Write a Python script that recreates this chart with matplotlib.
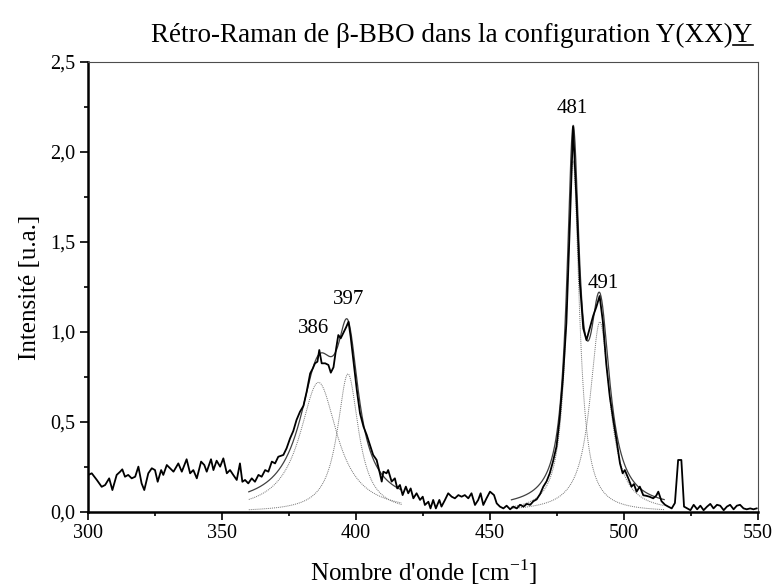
import numpy as np
import matplotlib
matplotlib.use('Agg')
import matplotlib.pyplot as plt
from matplotlib.ticker import MultipleLocator, FuncFormatter
from matplotlib.lines import Line2D

plt.rcParams['font.family'] = ['Liberation Serif', 'DejaVu Serif']
plt.rcParams['mathtext.fontset'] = 'custom'
plt.rcParams['mathtext.rm'] = 'Liberation Serif'

# measured spectrum (cm-1, intensity)
wavenumber = [
    300.1, 301.4, 303.3, 305.1, 306.4, 307.9, 309.1, 310.7, 312.0, 312.8,
    313.8, 315.0, 316.3, 317.6, 318.8, 320.0, 321.0, 322.5, 323.8, 325.0,
    326.0, 327.3, 328.1, 329.4, 330.6, 331.9, 333.7, 335.0, 336.8, 338.1,
    339.3, 340.6, 342.2, 343.4, 344.3, 345.9, 346.8, 348.0, 349.3, 350.5,
    351.8, 353.0, 354.2, 355.5, 356.7, 357.6, 358.6, 359.8, 361.1, 362.3,
    363.6, 364.8, 366.1, 367.3, 368.6, 369.8, 371.0, 372.9, 374.1, 375.4,
    376.6, 377.8, 379.1, 380.4, 381.6, 382.9, 383.9, 384.7, 385.6, 386.3,
    387.2, 388.5, 389.7, 390.6, 391.6, 392.6, 393.4, 394.3, 395.3, 396.3,
    397.2, 398.0, 399.0, 400.3, 401.5, 402.8, 404.0, 405.2, 406.4, 407.7,
    408.9, 409.6, 410.2, 411.4, 412.0, 413.3, 414.5, 415.4, 416.4, 417.4,
    418.6, 419.5, 420.4, 421.4, 422.6, 423.9, 424.9, 425.7, 427.0, 427.8,
    428.8, 429.8, 431.1, 431.9, 433.2, 434.4, 435.7, 436.9, 438.2, 439.4,
    440.6, 441.9, 443.1, 444.4, 445.6, 446.5, 447.5, 448.7, 450.0, 451.5,
    452.5, 453.7, 455.0, 456.2, 457.5, 458.7, 460.0, 461.2, 462.5, 463.7,
    465.0, 466.2, 467.4, 468.7, 469.9, 471.1, 472.3, 473.5, 474.8, 476.0,
    477.2, 478.5, 479.8, 481.0, 482.3, 483.5, 484.8, 486.0, 487.2, 488.5,
    489.7, 490.9, 492.1, 493.4, 494.7, 496.0, 497.2, 498.5, 499.5, 500.3,
    501.6, 502.8, 503.7, 504.7, 505.9, 507.2, 508.3, 509.5, 510.9, 512.0,
    512.8, 514.0, 515.3, 516.5, 517.8, 519.0, 520.2, 521.4, 522.4, 523.6,
    524.8, 526.0, 527.3, 528.5, 529.7, 531.0, 532.2, 533.4, 534.7, 535.9,
    537.2, 538.4, 539.6, 540.9, 542.1, 543.3, 544.6, 545.8, 547.1, 548.3,
    549.5,
]
intensity = [
    0.206, 0.215, 0.178, 0.140, 0.150, 0.187, 0.122, 0.206, 0.224, 0.237,
    0.196, 0.206, 0.187, 0.196, 0.252, 0.159, 0.122, 0.215, 0.243, 0.233,
    0.168, 0.233, 0.206, 0.261, 0.243, 0.224, 0.270, 0.224, 0.293, 0.215,
    0.233, 0.187, 0.280, 0.261, 0.224, 0.293, 0.233, 0.285, 0.252, 0.298,
    0.215, 0.233, 0.206, 0.178, 0.270, 0.168, 0.178, 0.159, 0.187, 0.168,
    0.206, 0.196, 0.233, 0.224, 0.280, 0.270, 0.307, 0.317, 0.354, 0.409,
    0.450, 0.511, 0.557, 0.590, 0.669, 0.770, 0.798, 0.826, 0.835, 0.900,
    0.826, 0.826, 0.817, 0.774, 0.804, 0.909, 0.983, 0.965, 0.996, 1.026,
    1.057, 0.974, 0.844, 0.678, 0.548, 0.474, 0.428, 0.372, 0.317, 0.289,
    0.215, 0.169, 0.224, 0.215, 0.233, 0.169, 0.187, 0.131, 0.150, 0.094,
    0.141, 0.104, 0.131, 0.076, 0.104, 0.067, 0.085, 0.039, 0.057, 0.020,
    0.067, 0.020, 0.067, 0.030, 0.067, 0.104, 0.085, 0.076, 0.094, 0.085,
    0.094, 0.076, 0.104, 0.039, 0.067, 0.104, 0.039, 0.076, 0.113, 0.094,
    0.048, 0.030, 0.020, 0.035, 0.015, 0.030, 0.020, 0.040, 0.030, 0.045,
    0.040, 0.060, 0.070, 0.100, 0.141, 0.170, 0.215, 0.280, 0.363, 0.520,
    0.740, 1.050, 1.600, 2.140, 1.720, 1.280, 1.020, 0.955, 1.020, 1.090,
    1.140, 1.200, 1.060, 0.820, 0.641, 0.511, 0.400, 0.270, 0.215, 0.233,
    0.187, 0.141, 0.155, 0.113, 0.141, 0.093, 0.090, 0.085, 0.076, 0.090,
    0.113, 0.060, 0.040, 0.030, 0.020, 0.050, 0.289, 0.289, 0.030, 0.020,
    0.010, 0.040, 0.015, 0.035, 0.010, 0.030, 0.045, 0.020, 0.040, 0.035,
    0.010, 0.030, 0.040, 0.015, 0.035, 0.040, 0.020, 0.015, 0.020, 0.015,
    0.020,
]

# Lorentzian fit components: centre, amplitude, half width
peak_centers = [386, 397, 481, 491]
peak_heights = [0.72, 0.767, 1.95, 1.056]
peak_hwhm = [8.5, 4.8, 2.8, 4.5]
fit_groups = [(0, 1), (2, 3)]
fit_ranges = [(360, 417), (458, 515)]
fit_offsets = [0.03, 0.02]

# peak labels
label_text = ['386', '397', '481', '491']
label_x = [384.0, 397.2, 480.6, 492.4]
label_y = [1.02, 1.18, 2.24, 1.27]


def lorentz(x, c, a, w):
    return a / (1 + ((x - c) / w) ** 2)


fig = plt.figure(figsize=(7.73, 5.87), dpi=100)
ax = fig.add_axes([88 / 773, 1 - 512 / 587, (758 - 88) / 773, (512 - 62) / 587])

ax.plot(wavenumber, intensity, color='black', lw=1.3, zorder=3)

for grp, (lo, hi), off in zip(fit_groups, fit_ranges, fit_offsets):
    xs = np.linspace(lo, hi, 400)
    total = np.full_like(xs, off)
    for i in grp:
        comp = lorentz(xs, peak_centers[i], peak_heights[i], peak_hwhm[i])
        total += comp
        ax.plot(xs, comp, color='0.45', lw=0.7, ls=(0, (1, 1)), zorder=2)
    ax.plot(xs, total, color='0.25', lw=0.9, zorder=2)

for t, x, y in zip(label_text, label_x, label_y):
    ax.text(x, y, t, ha='center', va='center', fontsize=15)

ax.set_xlim(300, 550)
ax.set_ylim(0, 2.5)
ax.xaxis.set_major_locator(MultipleLocator(50))
ax.xaxis.set_minor_locator(MultipleLocator(25))
ax.yaxis.set_major_locator(MultipleLocator(0.5))
ax.yaxis.set_minor_locator(MultipleLocator(0.25))
ax.yaxis.set_major_formatter(FuncFormatter(lambda v, p: f"{v:.1f}".replace('.', ',')))
ax.tick_params(which='both', direction='out', top=False, right=False, labelsize=14.5, width=1.2)
ax.tick_params(which='major', length=6, pad=3)
ax.tick_params(which='minor', length=3)

for s in ['left', 'bottom']:
    ax.spines[s].set_linewidth(1.8)
for s in ['top', 'right']:
    ax.spines[s].set_linewidth(0.8)
    ax.spines[s].set_color('0.3')

ax.set_xlabel(r"Nombre d'onde [cm$^{\mathregular{-1}}$]", fontsize=18)
ax.xaxis.set_label_coords(0.5, -(572 - 512) / (512 - 62))
ax.xaxis.label.set_va('center')
ax.set_ylabel('Intensité [u.a.]', fontsize=18)
ax.yaxis.set_label_coords(-(88 - 30) / (758 - 88), 0.5)
ax.yaxis.label.set_va('center')

# title with underlined final Y
title = fig.text(452 / 773, 1 - 35 / 587, 'Rétro-Raman de β-BBO dans la configuration Y(XX)Y',
                 ha='center', va='center', fontsize=19.5)
fig.canvas.draw()
r = fig.canvas.get_renderer()
bb = title.get_window_extent(r)
probe = fig.text(0, 0, 'Y', fontsize=19.5)
wy = probe.get_window_extent(r).width
probe.remove()
fw, fh = fig.bbox.width, fig.bbox.height
uy = (bb.y0 + 3) / fh
fig.add_artist(Line2D([(bb.x1 - wy) / fw, bb.x1 / fw], [uy, uy], color='black', lw=1.2))

fig.savefig('out.png', dpi=100)
